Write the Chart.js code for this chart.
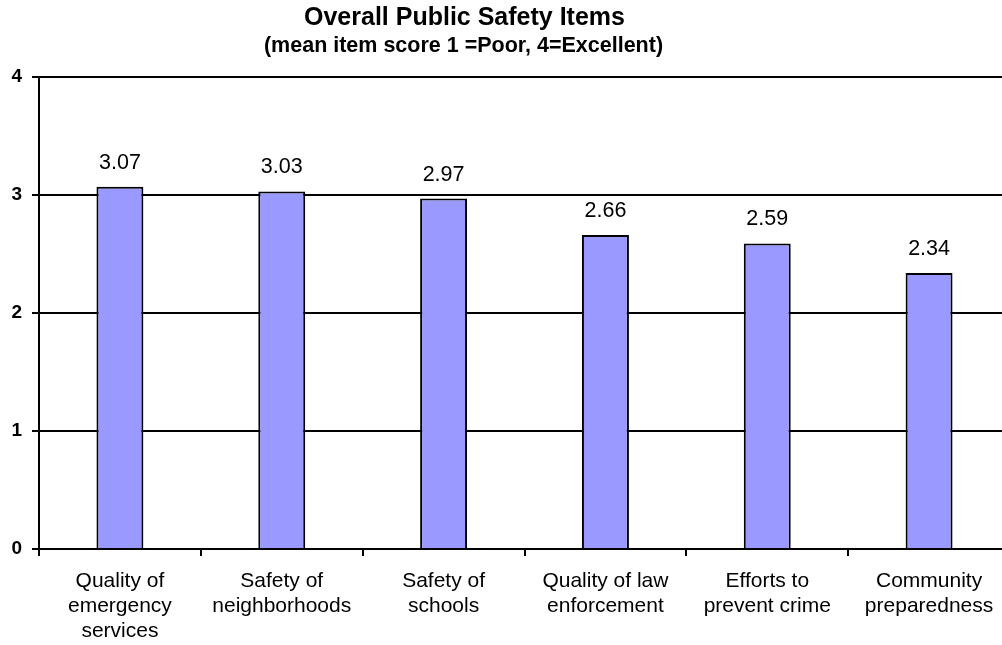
<!DOCTYPE html>
<html>
<head>
<meta charset="utf-8">
<script src="https://cdn.jsdelivr.net/npm/chart.js@4/dist/chart.umd.min.js"></script>
<style>
  html, body { margin: 0; padding: 0; background: #fff; overflow: hidden; }
  #wrap { width: 1002px; height: 645px; overflow: hidden; position: relative; }
  canvas { position: absolute; left: 0; top: 0; }
</style>
</head>
<body>
<div id="wrap"><canvas id="c" width="1010" height="645"></canvas></div>
<script>
const titleText = "Overall Public Safety Items";
const subtitleText = "(mean item score 1 =Poor, 4=Excellent)";
const categories = [
  ["Quality of", "emergency", "services"],
  ["Safety of", "neighborhoods"],
  ["Safety of", "schools"],
  ["Quality of law", "enforcement"],
  ["Efforts to", "prevent crime"],
  ["Community", "preparedness"]
];
const meanScores = [3.07, 3.03, 2.97, 2.66, 2.59, 2.34];
const yTicks = [0, 1, 2, 3, 4];

const FONT = "'Liberation Sans', Arial, sans-serif";

const titlePlugin = {
  id: 'titles',
  afterDraw(chart) {
    const ctx = chart.ctx;
    ctx.save();
    ctx.fillStyle = '#000';
    ctx.textAlign = 'center';
    ctx.textBaseline = 'alphabetic';
    ctx.font = "bold 25px " + FONT;
    ctx.fillText(titleText, 464.5, 25);
    ctx.font = "bold 21.5px " + FONT;
    ctx.fillText(subtitleText, 463.5, 52);
    ctx.restore();
  }
};

const valueLabels = {
  id: 'valueLabels',
  afterDatasetsDraw(chart) {
    const ctx = chart.ctx;
    const meta = chart.getDatasetMeta(0);
    ctx.save();
    ctx.fillStyle = '#000';
    ctx.textAlign = 'center';
    ctx.textBaseline = 'alphabetic';
    ctx.font = "21.5px " + FONT;
    meta.data.forEach((bar, i) => {
      ctx.fillText(meanScores[i].toFixed(2), bar.x, bar.y - 18);
    });
    ctx.restore();
  }
};

new Chart(document.getElementById('c'), {
  type: 'bar',
  data: {
    labels: categories,
    datasets: [{
      data: meanScores,
      backgroundColor: '#9999FF',
      borderColor: '#000000',
      borderWidth: 2,
      barPercentage: 0.29,
      categoryPercentage: 1.0
    }]
  },
  options: {
    responsive: false,
    animation: false,
    layout: { padding: { top: 77, left: 0, right: 0, bottom: 0 } },
    plugins: {
      legend: { display: false },
      title: { display: false },
      tooltip: { enabled: false }
    },
    scales: {
      x: {
        offset: true,
        grid: {
          display: true,
          offset: true,
          drawOnChartArea: false,
          drawTicks: true,
          tickLength: 7,
          color: '#000',
          lineWidth: 2
        },
        border: { display: true, color: '#000', width: 2 },
        ticks: {
          color: '#000',
          font: { family: FONT, size: 21, lineHeight: 1.19 },
          padding: 13,
          maxRotation: 0,
          autoSkip: false
        },
        afterFit(scale) { scale.height = 96; }
      },
      y: {
        min: 0,
        max: 4,
        afterBuildTicks(scale) { scale.ticks = yTicks.map(v => ({ value: v })); },
        grid: {
          color: '#000',
          lineWidth: 2,
          tickLength: 7,
          drawTicks: true
        },
        border: { display: true, color: '#000', width: 2 },
        ticks: {
          color: '#000',
          font: { family: FONT, size: 19, weight: 'bold' },
          padding: 10
        },
        afterFit(scale) { scale.width = 39; }
      }
    }
  },
  plugins: [titlePlugin, valueLabels]
});
</script>
</body>
</html>
